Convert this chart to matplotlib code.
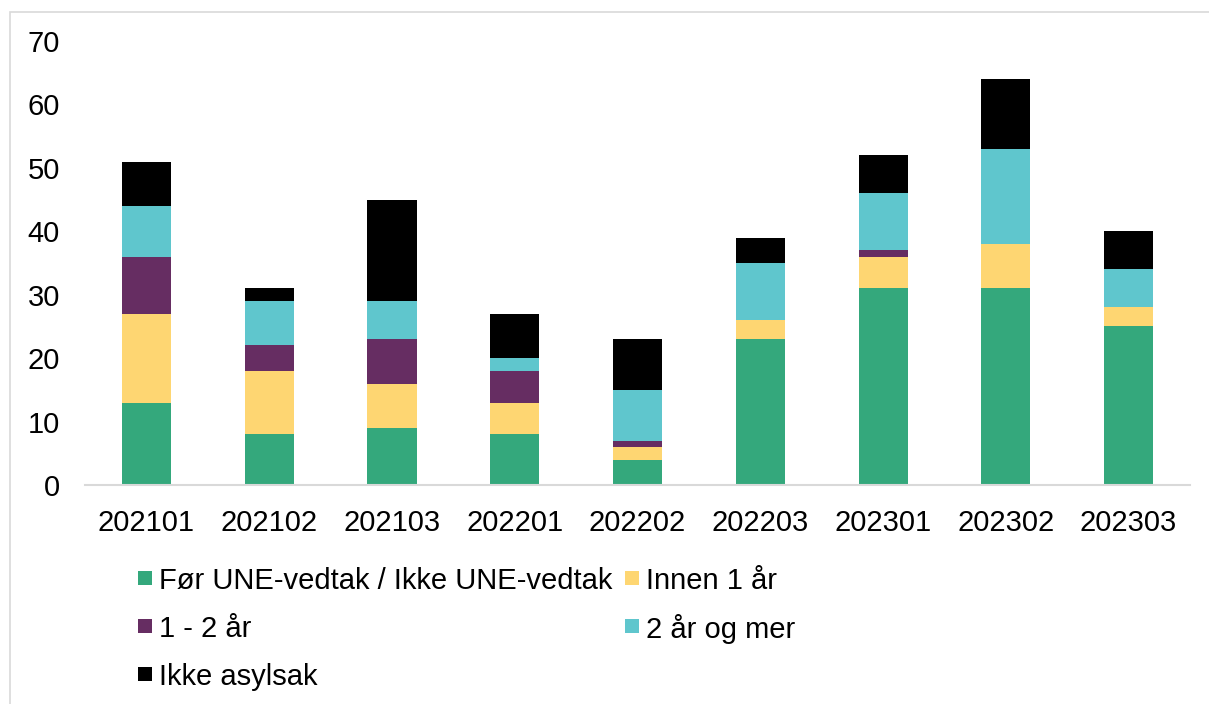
import numpy as np
import matplotlib
matplotlib.use('Agg')
import matplotlib.pyplot as plt
from matplotlib.patches import Rectangle

plt.rcParams['font.family'] = ['Liberation Sans', 'DejaVu Sans']

periods = ['202101', '202102', '202103', '202201', '202202',
           '202203', '202301', '202302', '202303']
series_names = ['Før UNE-vedtak / Ikke UNE-vedtak', 'Innen 1 år',
                '1 - 2 år', '2 år og mer', 'Ikke asylsak']
for_une = [13, 8, 9, 8, 4, 23, 31, 31, 25]
innen_1 = [14, 10, 7, 5, 2, 3, 5, 7, 3]
aar_1_2 = [9, 4, 7, 5, 1, 0, 1, 0, 0]
aar_2_mer = [8, 7, 6, 2, 8, 9, 9, 15, 6]
ikke_asyl = [7, 2, 16, 7, 8, 4, 6, 11, 6]
colors = ['#34A87C', '#FED672', '#662D62', '#5FC6CD', '#000000']

W, H = 1209, 704
fig = plt.figure(figsize=(W / 100, H / 100), dpi=100)
ax = fig.add_axes([85 / W, 1 - 485 / H, (1190 - 85) / W, (485 - 41) / H])

x = np.arange(len(periods))
bottom = np.zeros(len(periods))
for name, vals, col in zip(series_names,
                           [for_une, innen_1, aar_1_2, aar_2_mer, ikke_asyl],
                           colors):
    vals = np.array(vals, dtype=float)
    ax.bar(x, vals, 0.4, bottom=bottom, color=col, zorder=2)
    bottom += vals

ax.set_xlim(-0.5, len(periods) - 0.5)
ax.set_ylim(0, 70)
ax.set_yticks(range(0, 71, 10))
ax.set_xticks(x)
ax.set_xticklabels(periods)
for s in ['top', 'right', 'left']:
    ax.spines[s].set_visible(False)
ax.spines['bottom'].set_color('#d9d9d9')
ax.spines['bottom'].set_linewidth(1.5)
ax.tick_params(axis='both', length=0, labelsize=21, colors='black')
ax.tick_params(axis='y', pad=18)
ax.tick_params(axis='x', pad=17)

# legend drawn by hand: row-major, two columns
leg_rows = [578, 626, 674]
leg_cols = [138, 625]
for i, (name, col) in enumerate(zip(series_names, colors)):
    r, c = divmod(i, 2)
    px, py = leg_cols[c], leg_rows[r]
    fig.patches.append(Rectangle((px / W, 1 - (py + 7) / H), 14 / W, 14 / H,
                                 transform=fig.transFigure,
                                 facecolor=col, edgecolor='none'))
    fig.text((px + 21) / W, 1 - py / H, name, fontsize=21,
             va='center_baseline', ha='left')

# light outer frame of the chart area
fig.patches.append(Rectangle((10 / W, -0.1), 1.2, 1 - 12 / H + 0.1,
                             transform=fig.transFigure, fill=False,
                             edgecolor='#d9d9d9', linewidth=1.2))

fig.savefig('out.png', dpi=100)
